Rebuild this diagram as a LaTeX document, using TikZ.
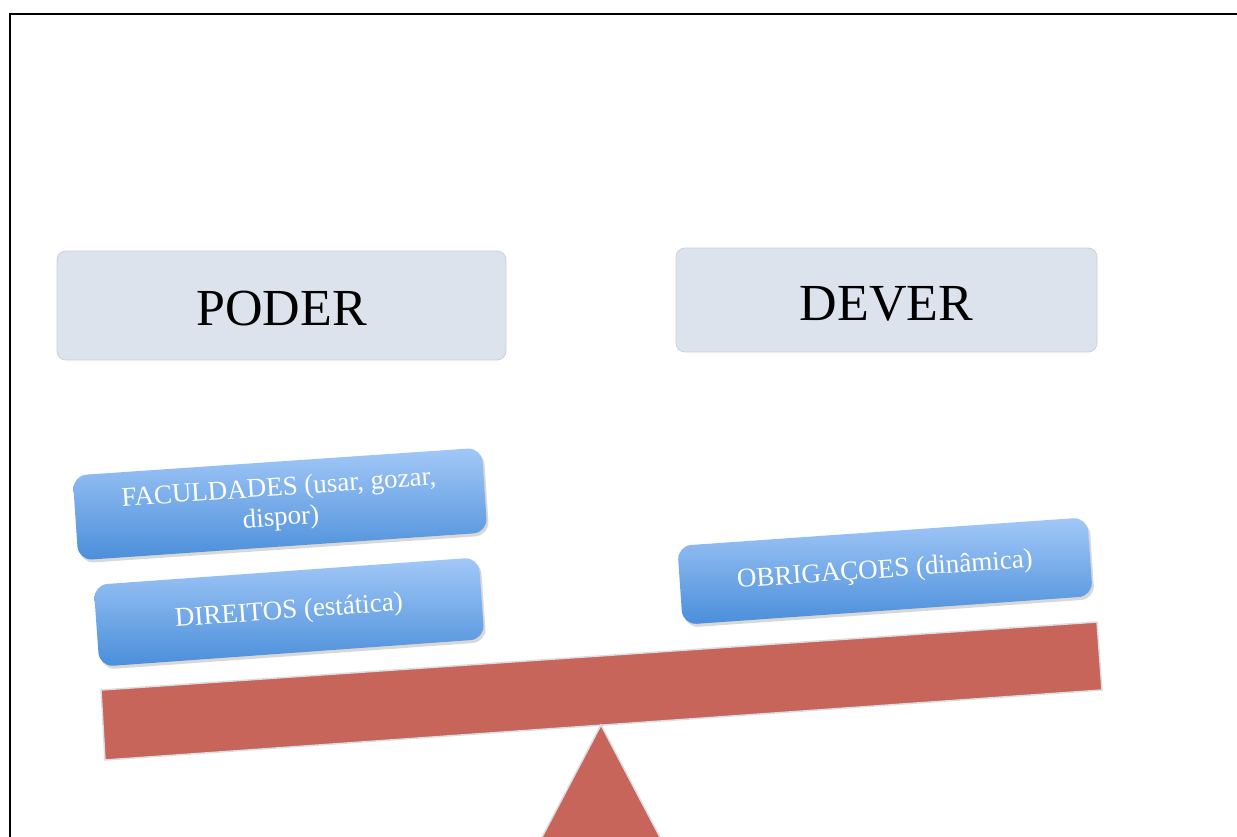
\documentclass[tikz,border=0pt]{standalone}
\usepackage{fontspec}
\setmainfont{Liberation Serif}
\usetikzlibrary{shadows}
\definecolor{hdrfill}{HTML}{DCE3EC}
\definecolor{hdrline}{HTML}{C9D1DC}
\definecolor{bluetop}{HTML}{A2C8F7}
\definecolor{bluebot}{HTML}{4A8EDA}
\definecolor{beamred}{HTML}{C8655B}
\definecolor{beamline}{HTML}{D9DDE4}
\newcommand{\lowerby}[1]{\raisebox{-3.5pt}[\height][\depth]{#1}}
\begin{document}
\begin{tikzpicture}[x=1pt,y=-1pt,
  hdr/.style={draw=hdrline, line width=0.8pt, fill=hdrfill, rounded corners=9pt,
    inner sep=0pt, font=\fontsize{52}{58}\selectfont},
  pill/.style={rounded corners=14pt, top color=bluetop, bottom color=bluebot, draw=none,
    text=white, inner sep=0pt, align=center, font=\fontsize{27}{30}\selectfont,
    drop shadow={opacity=0.3, shadow xshift=2pt, shadow yshift=-3pt}},
  redpart/.style={fill=beamred, draw=beamline, line width=1.5pt, line join=miter}]
\useasboundingbox (0,0) rectangle (1237,836);
\clip (0,0) rectangle (1237,836);
\fill[white] (0,0) rectangle (1237,836);
\draw[line width=2.5pt] (10,850) -- (10,14) -- (1250,14);

\node[hdr, minimum width=449pt, minimum height=109pt] (poder) at (281.5,305.5) {\lowerby{PODER}};
\node[hdr, minimum width=421pt, minimum height=104pt] (dever) at (886.5,300) {\lowerby{DEVER}};

\node[pill, rotate=3.9, minimum width=410pt, minimum height=85pt] (fac) at (280,504)
  {FACULDADES (usar, gozar,\\dispor)};
\node[pill, rotate=4.1, minimum width=386pt, minimum height=82pt] (dir) at (289,612)
  {DIREITOS (estática)};
\node[pill, rotate=4.0, minimum width=411pt, minimum height=79pt] (obr) at (885,571)
  {OBRIGAÇOES (dinâmica)};

\path[redpart] (101,690) -- (1097,622) -- (1102,690) -- (105,760) -- cycle;
\path[redpart] (601,725) -- (672,860) -- (530,860) -- cycle;
\end{tikzpicture}
\end{document}
